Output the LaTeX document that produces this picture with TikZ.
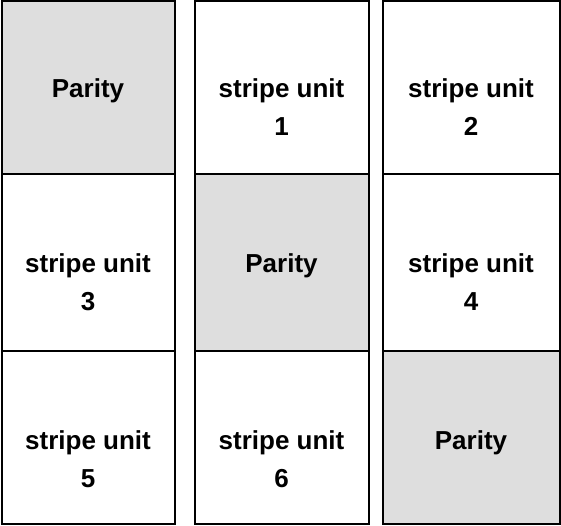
\documentclass[tikz,border=0pt]{standalone}
\usepackage{fontspec}
\setmainfont{Liberation Sans}

\tikzset{
  unit/.style={draw=black, line width=2pt},
  parity/.style={unit, fill=black!13},
  label/.style={font=\fontsize{26}{38}\selectfont\bfseries, align=center, anchor=base, inner sep=0pt},
  twolines/.style={label, yshift=-38pt}
}

\begin{document}
\begin{tikzpicture}[x=1pt,y=-1pt]
\useasboundingbox (0,0) rectangle (561,526);

% disk 1
\draw[parity] (1.5,1) rectangle (175,174);
\draw[unit] (1.5,174) rectangle (175,350.5);
\draw[unit] (1.5,350.5) rectangle (175,524);
\node[label] (p1) at (88,98) {Parity};
\node[twolines] (s3) at (88,272) {stripe unit\\3};
\node[twolines] (s5) at (88,449) {stripe unit\\5};

% disk 2
\draw[unit] (194.5,1) rectangle (368.5,174);
\draw[parity] (194.5,174) rectangle (368.5,350.5);
\draw[unit] (194.5,350.5) rectangle (368.5,524);
\node[twolines] (s1) at (281.5,98) {stripe unit\\1};
\node[label] (p2) at (281.5,272) {Parity};
\node[twolines] (s6) at (281.5,449) {stripe unit\\6};

% disk 3
\draw[unit] (383,1) rectangle (559.5,174);
\draw[unit] (383,174) rectangle (559.5,350.5);
\draw[parity] (383,350.5) rectangle (559.5,524);
\node[twolines] (s2) at (471,98) {stripe unit\\2};
\node[twolines] (s4) at (471,272) {stripe unit\\4};
\node[label] (p3) at (471,449) {Parity};
\end{tikzpicture}
\end{document}
